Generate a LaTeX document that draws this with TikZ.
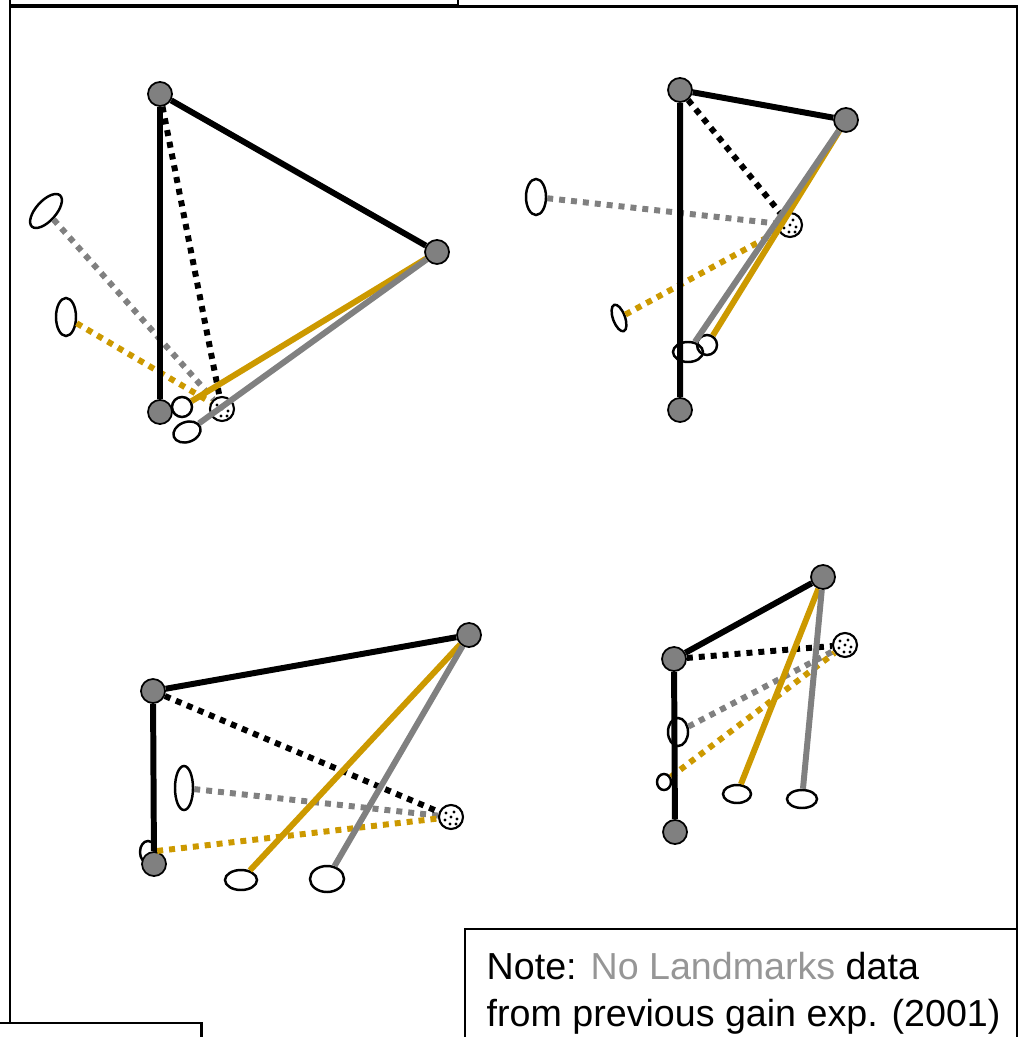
\documentclass[tikz,border=0pt]{standalone}
\usepackage{fontspec}
\setmainfont{Liberation Sans}
\usepackage{xcolor}
\usetikzlibrary{shapes.geometric}

\definecolor{gold}{RGB}{204,153,0}
\definecolor{midgray}{RGB}{128,128,128}
\definecolor{notegray}{RGB}{150,150,150}

\begin{document}
\begin{tikzpicture}[
    x=0.01cm, y=-0.01cm,
    frame/.style={draw=black, line width=0.6pt},
    vertex/.style={
        circle,
        minimum size=0.24cm,
        inner sep=0pt,
        fill=midgray,
        draw=black,
        line width=0.5pt
    },
    home/.style={
        circle,
        minimum size=0.24cm,
        inner sep=0pt,
        fill=white,
        draw=black,
        line width=0.6pt,
        path picture={
            \foreach \dx/\dy in {-5/-4, 3/-5, -6/3, 0/0, 6/2, -1/7, 5/7}
                \fill[black] (path picture bounding box.center) ++(\dx,\dy) circle (0.45pt);
        }
    },
    blob/.style 2 args={
        ellipse,
        minimum width=#1,
        minimum height=#2,
        inner sep=0pt,
        draw=black,
        line width=0.7pt
    },
    walk/.style={line width=1.7pt},
    point/.style={line width=1.7pt, dash pattern=on 1.7pt off 1.7pt}
]

\useasboundingbox (0,0) rectangle (1024,1037);
\clip (0,0) rectangle (1024,1037);

% Frames
\draw[frame] (10,-20) rectangle (458,5.5);
\draw[frame] (10,1023) -- (10,6.5) -- (1017,6.5) -- (1017,1060);
\draw[frame] (-20,1023) rectangle (201.5,1060);
\draw[frame] (465,1060) -- (465,929) -- (1017,929);

\node (note) [anchor=north west, inner sep=0pt, align=left,
    font=\fontsize{10.7pt}{13.4pt}\selectfont] at (486,951.5)
    {Note: \textcolor{notegray}{No Landmarks} data\\from previous gain exp. (2001)};

% Panel 1 (top left)
\node (g1)  [blob={0.2cm}{0.42cm}, rotate=-42] at (46,211) {};
\node (y1)  [blob={0.2cm}{0.38cm}] at (66,317) {};
\node (wy1) [blob={0.2cm}{0.2cm}] at (182,407) {};
\node (wg1) [blob={0.28cm}{0.2cm}, rotate=20] at (187,432) {};
\node (v1a) [vertex] at (160,94) {};
\node (v1b) [vertex] at (437,252) {};
\node (v1c) [vertex] at (160,412) {};
\node (t1)  [home] at (222,409) {};

% Panel 2 (top right)
\node (g2)  [blob={0.2cm}{0.36cm}] at (536,197) {};
\node (y2)  [blob={0.12cm}{0.28cm}, rotate=20] at (619,318) {};
\node (wg2) [blob={0.3cm}{0.2cm}] at (688,352) {};
\node (wy2) [blob={0.2cm}{0.2cm}] at (707,345) {};
\node (v2a) [vertex] at (680,90) {};
\node (v2b) [vertex] at (846,120) {};
\node (v2c) [vertex] at (680,410) {};
\node (t2)  [home] at (790,225) {};

% Panel 3 (bottom left)
\node (g3)  [blob={0.18cm}{0.44cm}] at (184,788) {};
\node (y3)  [blob={0.16cm}{0.22cm}] at (148,852) {};
\node (wy3) [blob={0.32cm}{0.2cm}] at (241,880) {};
\node (wg3) [blob={0.34cm}{0.26cm}] at (327,879) {};
\node (v3a) [vertex] at (153,691) {};
\node (v3b) [vertex] at (469,635) {};
\node (v3c) [vertex] at (154,864) {};
\node (t3)  [home] at (451,817) {};

% Panel 4 (bottom right)
\node (g4)  [blob={0.2cm}{0.28cm}] at (678,732) {};
\node (y4)  [blob={0.14cm}{0.16cm}] at (664,782) {};
\node (wy4) [blob={0.28cm}{0.18cm}] at (737,794) {};
\node (wg4) [blob={0.3cm}{0.18cm}] at (802,799) {};
\node (v4a) [vertex] at (674,659) {};
\node (v4b) [vertex] at (823,577) {};
\node (v4c) [vertex] at (675,832) {};
\node (t4)  [home] at (845,645) {};

% Lines
\draw[point, midgray] (g1) -- (t1);
\draw[point, gold] (y1) -- (t1);
\draw[walk] (v1c) -- (v1a) -- (v1b);
\draw[point] (v1a) -- (t1);
\draw[walk, gold] (v1b) -- (wy1);
\draw[walk, midgray] (v1b) -- (wg1);

\draw[point, midgray] (g2) -- (t2);
\draw[point, gold] (y2) -- (t2);
\draw[walk] (v2c) -- (v2a) -- (v2b);
\draw[point] (v2a) -- (t2);
\draw[walk, gold] (v2b) -- (wy2);
\draw[walk, midgray] (v2b) -- (wg2);

\draw[point, midgray] (g3) -- (t3);
\draw[point, gold] (y3) -- (t3);
\draw[walk] (v3c) -- (v3a) -- (v3b);
\draw[point] (v3a) -- (t3);
\draw[walk, gold] (v3b) -- (wy3);
\draw[walk, midgray] (v3b) -- (wg3);

\draw[point, midgray] (g4) -- (t4);
\draw[point, gold] (y4) -- (t4);
\draw[walk] (v4c) -- (v4a) -- (v4b);
\draw[point] (v4a) -- (t4);
\draw[walk, gold] (v4b) -- (wy4);
\draw[walk, midgray] (v4b) -- (wg4);

\end{tikzpicture}
\end{document}
